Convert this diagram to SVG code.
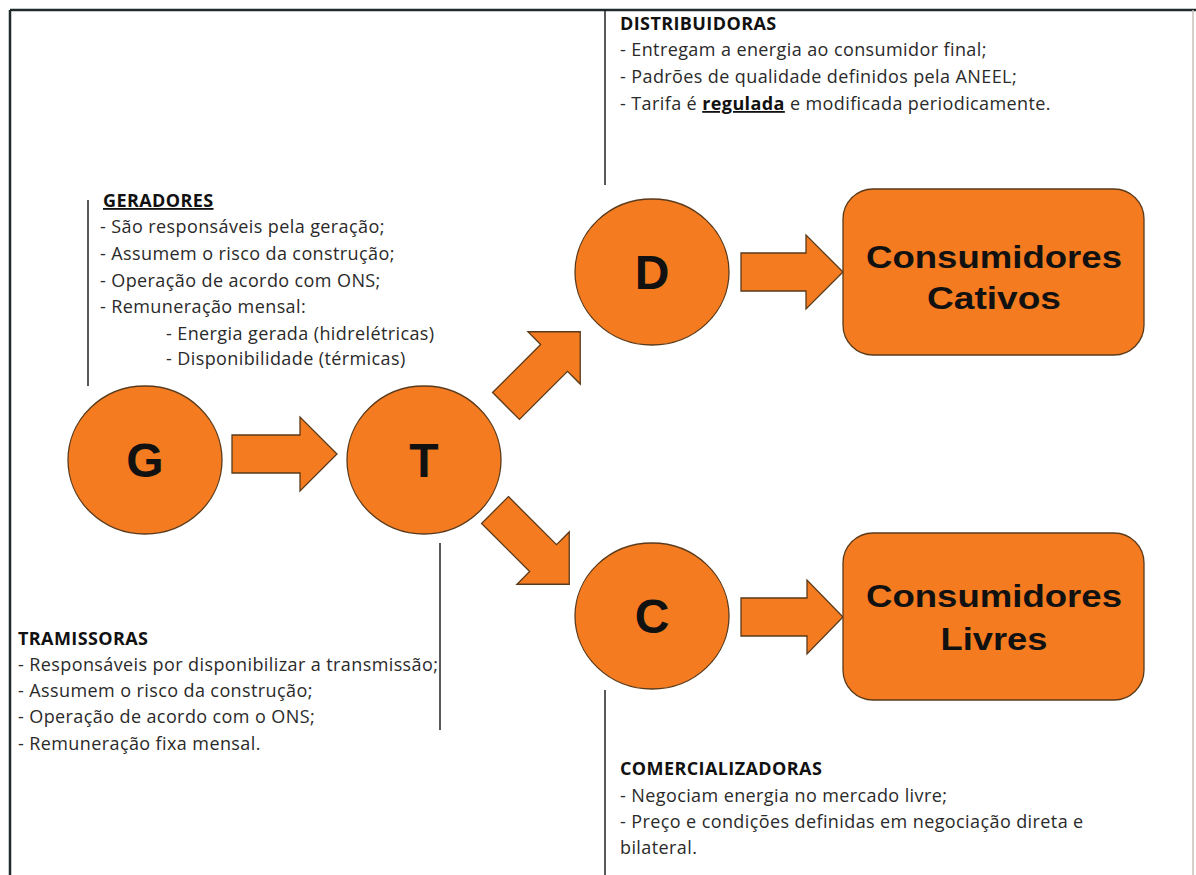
<svg xmlns="http://www.w3.org/2000/svg" width="1196" height="875" viewBox="0 0 1196 875">
<defs>
<style>
.t{font-family:"Open Sans","Liberation Sans",sans-serif;font-size:18px;letter-spacing:0.4px;fill:#2a2a2a}
.h{font-weight:bold;fill:#111}
.node{fill:#F47B20;stroke:#5a3a1a;stroke-width:1.3}
.big{font-family:"Liberation Sans",Arial,sans-serif;font-weight:bold;fill:#111;text-anchor:middle}
.ln{stroke:#222;stroke-width:1.5;fill:none}
</style>
<path id="arr" d="M0,-19 H68 V-37 L105,0 L68,37 V19 H0 Z"/>
</defs>
<rect width="1196" height="875" fill="#fff"/>
<g id="frame">
<line x1="10" y1="10" x2="1196" y2="10" stroke="#1f2a2a" stroke-width="2.5"/>
<line x1="10" y1="10" x2="10" y2="875" stroke="#1f2a2a" stroke-width="2.5"/>
<line x1="1193" y1="10" x2="1193" y2="875" stroke="#c8c0bc" stroke-width="1.5"/>
<line class="ln" x1="605" y1="10" x2="605" y2="185"/>
<line class="ln" x1="88" y1="200" x2="88" y2="386"/>
<line class="ln" x1="440" y1="543" x2="440" y2="730"/>
<line class="ln" x1="605" y1="690" x2="605" y2="875"/>
</g>
<g id="connectors" fill="#F47B20" stroke="#5a3a1a" stroke-width="1.3">
<use href="#arr" transform="translate(232,454)"/>
<use href="#arr" transform="translate(506,406) rotate(-45)"/>
<use href="#arr" transform="translate(495,510) rotate(45)"/>
<path d="M741,253 H806 V235 L843,272 L806,309 V291 H741 Z"/>
<path d="M741,598 H807 V580 L843,617 L807,654 V636 H741 Z"/>
</g>
<g id="node-G">
<ellipse class="node" cx="145" cy="460" rx="77" ry="74"/>
<text class="big" x="145" y="477" font-size="48">G</text>
</g>
<g id="node-T">
<ellipse class="node" cx="424" cy="460" rx="77" ry="74"/>
<text class="big" x="424" y="477" font-size="48">T</text>
</g>
<g id="node-D">
<ellipse class="node" cx="652" cy="272" rx="77" ry="73"/>
<text class="big" x="652" y="289" font-size="48">D</text>
</g>
<g id="node-C">
<ellipse class="node" cx="652" cy="616" rx="77" ry="73"/>
<text class="big" x="652" y="633" font-size="48">C</text>
</g>
<g id="node-cativos">
<rect class="node" x="843" y="189" width="301" height="166" rx="30"/>
<text class="big" x="994" y="268" font-size="32" textLength="256" lengthAdjust="spacingAndGlyphs">Consumidores</text>
<text class="big" x="994" y="309" font-size="32" textLength="134" lengthAdjust="spacingAndGlyphs">Cativos</text>
</g>
<g id="node-livres">
<rect class="node" x="843" y="533" width="301" height="167" rx="30"/>
<text class="big" x="994" y="607" font-size="32" textLength="256" lengthAdjust="spacingAndGlyphs">Consumidores</text>
<text class="big" x="994" y="650" font-size="32" textLength="107" lengthAdjust="spacingAndGlyphs">Livres</text>
</g>
<g id="geradores" class="t">
<text x="103" y="207" class="h" text-decoration="underline">GERADORES</text>
<text x="100" y="233">- São responsáveis pela geração;</text>
<text x="100" y="260">- Assumem o risco da construção;</text>
<text x="100" y="287">- Operação de acordo com ONS;</text>
<text x="100" y="313">- Remuneração mensal:</text>
<text x="166" y="340">- Energia gerada (hidrelétricas)</text>
<text x="166" y="365">- Disponibilidade (térmicas)</text>
</g>
<g id="distribuidoras" class="t">
<text x="620" y="30" class="h">DISTRIBUIDORAS</text>
<text x="620" y="56">- Entregam a energia ao consumidor final;</text>
<text x="620" y="83">- Padrões de qualidade definidos pela ANEEL;</text>
<text x="620" y="110">- Tarifa é <tspan font-weight="bold" fill="#111" text-decoration="underline">regulada</tspan> e modificada periodicamente.</text>
</g>
<g id="transmissoras" class="t">
<text x="18" y="645" class="h">TRAMISSORAS</text>
<text x="18" y="671">- Responsáveis por disponibilizar a transmissão;</text>
<text x="18" y="697">- Assumem o risco da construção;</text>
<text x="18" y="723">- Operação de acordo com o ONS;</text>
<text x="18" y="750">- Remuneração fixa mensal.</text>
</g>
<g id="comercializadoras" class="t">
<text x="620" y="775" class="h">COMERCIALIZADORAS</text>
<text x="620" y="802">- Negociam energia no mercado livre;</text>
<text x="620" y="828">- Preço e condições  definidas em negociação direta e</text>
<text x="620" y="854">bilateral.</text>
</g>
</svg>
